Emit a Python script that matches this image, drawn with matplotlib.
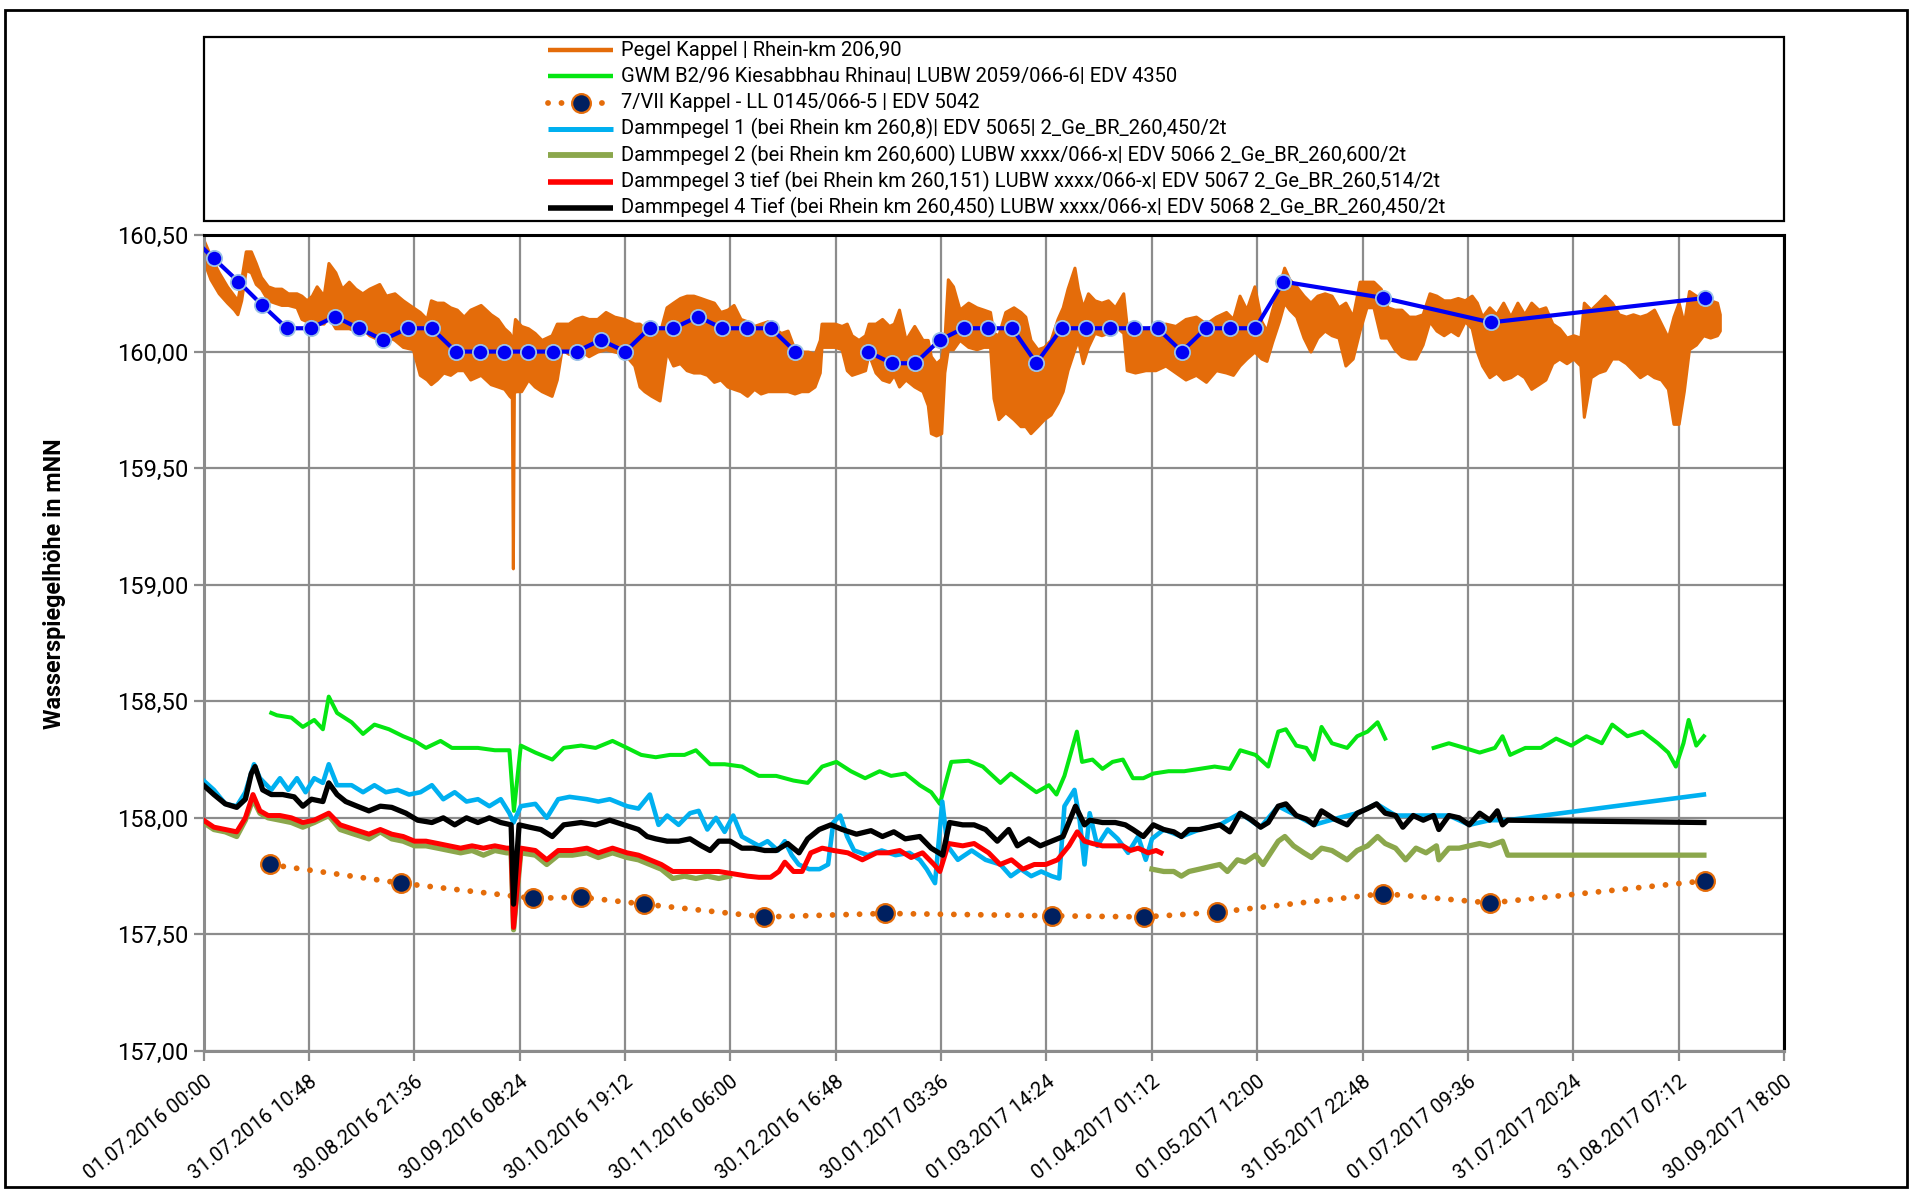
import numpy as np
import matplotlib
matplotlib.use("Agg")
import matplotlib.pyplot as plt
import matplotlib.dates as mdates
from matplotlib.lines import Line2D
from matplotlib.patches import Rectangle
from datetime import datetime

plt.rcParams['font.family'] = ['Roboto', 'DejaVu Sans']

# ---------------- data (x values are days after 01.07.2016 00:00) ----------------
START = datetime(2016, 7, 1)

X_TICK_LABELS = ["01.07.2016 00:00", "31.07.2016 10:48", "30.08.2016 21:36", "30.09.2016 08:24",
                 "30.10.2016 19:12", "30.11.2016 06:00", "30.12.2016 16:48", "30.01.2017 03:36",
                 "01.03.2017 14:24", "01.04.2017 01:12", "01.05.2017 12:00", "31.05.2017 22:48",
                 "01.07.2017 09:36", "31.07.2017 20:24", "31.08.2017 07:12", "30.09.2017 18:00"]
Y_TICKS = [157.0, 157.5, 158.0, 158.5, 159.0, 159.5, 160.0, 160.5]
Y_TICK_LABELS = ["157,00", "157,50", "158,00", "158,50", "159,00", "159,50", "160,00", "160,50"]

LABELS = ["Pegel Kappel | Rhein-km 206,90",
          "GWM B2/96 Kiesabbhau Rhinau| LUBW 2059/066-6| EDV 4350",
          "7/VII Kappel - LL 0145/066-5 | EDV 5042",
          "Dammpegel 1 (bei Rhein km 260,8)| EDV 5065| 2_Ge_BR_260,450/2t",
          "Dammpegel 2 (bei Rhein km 260,600) LUBW xxxx/066-x| EDV 5066 2_Ge_BR_260,600/2t",
          "Dammpegel 3 tief (bei Rhein km 260,151) LUBW xxxx/066-x| EDV 5067 2_Ge_BR_260,514/2t",
          "Dammpegel 4 Tief (bei Rhein km 260,450) LUBW xxxx/066-x| EDV 5068 2_Ge_BR_260,450/2t"]

# Pegel Kappel: band of the (strongly fluctuating) gauge reading, upper / lower envelope
kappel_day = [0.0, 2.0, 4.4, 6.8, 8.8, 9.8, 10.9, 12.2, 13.7, 15.1, 16.6, 18.6, 20.5, 22.5, 24.4, 26.9,
              28.3, 29.8, 31.3, 32.7, 34.7, 36.1, 38.1, 40.0, 42.0, 43.9, 45.9, 47.9, 50.8, 52.7, 55.2,
              57.6, 60.5, 62.5, 64.5, 65.7, 67.4, 69.3, 71.3, 73.2, 75.2, 77.1, 80.1, 83.0, 85.0, 86.9,
              88.4, 89.1, 89.4, 89.7, 90.0, 91.8, 93.8, 95.7, 97.7, 100.6, 102.1, 103.5, 105.5, 107.4,
              109.4, 111.3, 113.8, 116.2, 118.7, 121.6, 124.5, 126.0, 127.4, 129.4, 131.8, 133.8, 135.7,
              137.7, 139.6, 141.6, 143.6, 145.5, 147.5, 149.4, 151.4, 153.2, 155.2, 157.1, 159.1, 161.0,
              163.0, 164.9, 166.9, 168.8, 170.8, 172.7, 174.7, 176.6, 178.1, 178.6, 180.5, 182.5, 184.4,
              185.9, 187.3, 189.3, 191.2, 192.2, 194.2, 196.1, 198.1, 199.5, 201.0, 202.9, 205.4, 207.8,
              209.3, 210.2, 211.7, 213.2, 214.1, 215.1, 216.6, 218.5, 221.0, 223.4, 225.4, 227.3, 228.3,
              229.7, 231.7, 234.1, 236.1, 237.5, 239.0, 241.0, 242.9, 244.8, 246.8, 248.3, 249.7, 251.7,
              252.7, 254.1, 255.6, 257.5, 259.5, 261.4, 263.4, 265.8, 266.8, 269.2, 272.2, 275.1, 278.0,
              280.9, 283.8, 286.8, 289.7, 292.6, 295.5, 297.5, 299.4, 301.4, 303.7, 305.7, 307.2, 308.8,
              310.8, 312.3, 313.8, 315.8, 317.9, 319.9, 321.9, 324.0, 326.0, 328.0, 330.0, 332.1, 334.1,
              336.1, 338.1, 340.2, 342.2, 344.2, 346.2, 348.3, 350.3, 352.3, 354.3, 356.3, 358.4, 360.4,
              362.5, 364.5, 366.5, 368.0, 369.5, 371.6, 373.6, 375.6, 377.7, 379.7, 381.7, 383.7, 385.8,
              387.8, 389.8, 391.8, 393.9, 395.9, 397.9, 398.9, 400.9, 403.0, 405.0, 407.0, 409.0, 411.1,
              413.1, 415.1, 417.2, 419.2, 421.2, 423.2, 424.8, 426.3, 427.8, 429.3, 431.3, 433.4, 435.4,
              437.4, 438.2]
kappel_hi = [160.48, 160.41, 160.34, 160.28, 160.24, 160.22, 160.31, 160.43, 160.43, 160.38, 160.32, 160.28,
             160.27, 160.27, 160.25, 160.25, 160.24, 160.22, 160.24, 160.28, 160.24, 160.38, 160.34, 160.27,
             160.30, 160.27, 160.25, 160.27, 160.29, 160.24, 160.25, 160.22, 160.19, 160.17, 160.14, 160.22,
             160.21, 160.21, 160.19, 160.18, 160.15, 160.18, 160.20, 160.16, 160.14, 160.10, 160.08, 160.06,
             160.04, 160.10, 160.14, 160.11, 160.10, 160.08, 160.05, 160.07, 160.12, 160.12, 160.12, 160.14,
             160.15, 160.14, 160.14, 160.17, 160.15, 160.14, 160.12, 160.12, 160.10, 160.12, 160.08, 160.19,
             160.21, 160.23, 160.24, 160.24, 160.23, 160.22, 160.21, 160.17, 160.18, 160.20, 160.14, 160.13,
             160.11, 160.12, 160.13, 160.10, 160.08, 160.09, 160.01, 160.00, 160.00, 159.99, 160.05, 160.12,
             160.12, 160.12, 160.11, 160.12, 160.07, 160.05, 160.07, 160.12, 160.12, 160.14, 160.11, 160.12,
             160.18, 160.05, 160.11, 160.05, 160.05, 159.98, 159.95, 159.97, 160.05, 160.31, 160.28, 160.18,
             160.21, 160.19, 160.18, 160.17, 160.08, 160.07, 160.17, 160.19, 160.17, 160.15, 160.05, 160.01,
             160.02, 160.05, 160.14, 160.19, 160.27, 160.36, 160.27, 160.19, 160.25, 160.22, 160.21, 160.22,
             160.19, 160.25, 160.11, 160.10, 160.10, 160.11, 160.12, 160.11, 160.14, 160.15, 160.12, 160.15,
             160.17, 160.14, 160.24, 160.18, 160.28, 160.13, 160.09, 160.18, 160.28, 160.36, 160.31, 160.28,
             160.24, 160.21, 160.24, 160.25, 160.24, 160.19, 160.21, 160.15, 160.30, 160.30, 160.30, 160.27,
             160.19, 160.18, 160.18, 160.15, 160.15, 160.16, 160.25, 160.24, 160.22, 160.22, 160.23, 160.22,
             160.24, 160.21, 160.15, 160.19, 160.16, 160.21, 160.15, 160.21, 160.16, 160.21, 160.18, 160.19,
             160.12, 160.10, 160.06, 160.07, 160.06, 160.21, 160.18, 160.21, 160.24, 160.21, 160.16, 160.15,
             160.16, 160.15, 160.16, 160.18, 160.12, 160.06, 160.15, 160.21, 160.12, 160.26, 160.24, 160.23,
             160.22, 160.21, 160.16]
kappel_lo = [160.39, 160.31, 160.25, 160.21, 160.18, 160.16, 160.22, 160.35, 160.34, 160.29, 160.27, 160.22,
             160.21, 160.20, 160.20, 160.19, 160.14, 160.13, 160.12, 160.12, 160.12, 160.15, 160.10, 160.10,
             160.10, 160.09, 160.10, 160.07, 160.05, 160.07, 160.05, 160.02, 160.01, 159.90, 159.88, 159.86,
             159.88, 159.91, 159.90, 159.92, 159.92, 159.88, 159.90, 159.86, 159.85, 159.84, 159.81, 159.80,
             159.07, 159.82, 159.83, 159.83, 159.88, 159.85, 159.83, 159.81, 159.88, 160.01, 159.99, 160.01,
             160.00, 159.98, 160.00, 160.01, 160.00, 159.99, 159.94, 159.85, 159.83, 159.81, 159.79, 160.00,
             159.94, 159.95, 159.92, 159.91, 159.91, 159.90, 159.87, 159.88, 159.85, 159.84, 159.83, 159.81,
             159.84, 159.82, 159.83, 159.83, 159.83, 159.83, 159.82, 159.83, 159.83, 159.85, 159.91, 160.02,
             160.02, 160.02, 160.01, 159.92, 159.90, 159.91, 159.92, 159.99, 159.91, 159.88, 159.87, 159.90,
             159.85, 159.88, 159.85, 159.83, 159.77, 159.65, 159.64, 159.65, 159.91, 160.01, 160.01, 160.05,
             160.02, 160.01, 160.02, 160.02, 159.80, 159.71, 159.74, 159.71, 159.68, 159.68, 159.65, 159.68,
             159.71, 159.73, 159.78, 159.83, 159.92, 160.01, 160.05, 159.95, 160.02, 160.08, 160.07, 160.08,
             160.11, 160.08, 159.92, 159.91, 159.92, 159.92, 159.94, 159.91, 159.88, 159.90, 159.87, 159.92,
             159.91, 159.90, 159.94, 159.97, 160.00, 159.97, 159.96, 160.04, 160.13, 160.21, 160.18, 160.15,
             160.06, 160.00, 160.06, 160.09, 160.07, 160.06, 159.94, 159.97, 160.09, 160.19, 160.19, 160.06,
             160.06, 160.01, 159.98, 159.97, 159.97, 160.03, 160.13, 160.09, 160.07, 160.09, 160.07, 160.13,
             160.10, 160.00, 159.94, 159.89, 159.91, 159.88, 159.89, 159.91, 159.89, 159.84, 159.86, 159.88,
             159.95, 159.97, 159.95, 159.97, 159.94, 159.72, 159.89, 159.91, 159.92, 159.97, 159.97, 159.95,
             159.92, 159.89, 159.91, 159.89, 159.88, 159.84, 159.69, 159.69, 159.83, 160.01, 160.03, 160.07,
             160.06, 160.07, 160.09]

# Weekly reading of the Kappel gauge (blue line with markers, not listed in legend)
weekly_day = [-4.1, 2.9, 10.1, 16.9, 24.1, 31.0, 38.0, 44.9, 51.9, 59.0, 65.9, 72.9, 80.0, 86.9, 93.8, 100.9,
              107.8, 114.8, 121.9, 128.9, 135.8, 142.9, 149.9, 157.1, 164.0, 171.0, 181.0, 191.9, 198.9,
              205.7, 212.8, 219.7, 226.8, 233.7, 240.7, 248.0, 254.9, 261.9, 268.8, 275.7, 282.7, 289.7,
              296.7, 304.0, 312.1, 341.0, 372.0, 434.0]
weekly_val = [160.50, 160.40, 160.30, 160.20, 160.10, 160.10, 160.15, 160.10, 160.05, 160.10, 160.10, 160.00,
              160.00, 160.00, 160.00, 160.00, 160.00, 160.05, 160.00, 160.10, 160.10, 160.15, 160.10, 160.10,
              160.10, 160.00, np.nan, 160.00, 159.95, 159.95, 160.05, 160.10, 160.10, 160.10, 159.95, 160.10,
              160.10, 160.10, 160.10, 160.10, 160.00, 160.10, 160.10, 160.10, 160.30, 160.23, 160.125, 160.23]

# GWM B2/96 Kiesabbhau Rhinau
gwm_day = [19.6, 21.2, 25.4, 28.7, 32.0, 34.5, 36.2, 38.6, 42.8, 46.1, 49.4, 53.6, 57.7, 61.0, 64.3, 68.5,
           71.8, 76.0, 79.3, 84.2, 88.4, 89.7, 91.7, 95.9, 100.8, 104.1, 109.1, 113.3, 118.2, 122.4, 126.5,
           130.7, 134.8, 139.0, 142.3, 146.4, 150.6, 155.6, 160.5, 165.5, 170.5, 174.6, 178.8, 182.9, 187.1,
           191.2, 195.4, 198.7, 202.8, 207.0, 210.3, 212.8, 216.1, 221.1, 225.2, 230.3, 233.3, 237.0, 240.7,
           244.3, 246.5, 248.8, 252.4, 253.9, 256.9, 259.8, 262.7, 265.7, 268.6, 271.6, 274.5, 278.9, 283.4,
           287.8, 292.2, 296.6, 299.6, 304.0, 307.7, 310.6, 312.8, 315.8, 318.7, 320.9, 323.1, 326.1, 330.5,
           333.4, 336.4, 339.3, 341.5, 348.0, 355.5, 359.9, 364.4, 368.8, 373.2, 375.4, 377.6, 382.0, 386.5,
           390.9, 395.3, 399.7, 404.1, 407.1, 411.5, 415.9, 420.3, 423.3, 425.5, 427.7, 429.2, 431.4, 433.6]
gwm_val = [158.45, 158.44, 158.43, 158.39, 158.42, 158.38, 158.52, 158.45, 158.41, 158.36, 158.40, 158.38,
           158.35, 158.33, 158.30, 158.33, 158.30, 158.30, 158.30, 158.29, 158.29, 158.03, 158.31, 158.28,
           158.25, 158.30, 158.31, 158.30, 158.33, 158.30, 158.27, 158.26, 158.27, 158.27, 158.29, 158.23,
           158.23, 158.22, 158.18, 158.18, 158.16, 158.15, 158.22, 158.24, 158.20, 158.17, 158.20, 158.18,
           158.19, 158.14, 158.11, 158.06, 158.24, 158.245, 158.22, 158.15, 158.19, 158.15, 158.11, 158.14,
           158.10, 158.18, 158.37, 158.24, 158.25, 158.21, 158.24, 158.25, 158.17, 158.17, 158.19, 158.20,
           158.20, 158.21, 158.22, 158.21, 158.29, 158.27, 158.22, 158.37, 158.38, 158.31, 158.30, 158.25,
           158.39, 158.32, 158.30, 158.35, 158.37, 158.41, 158.34, np.nan, 158.30, 158.32, 158.30, 158.28,
           158.30, 158.35, 158.27, 158.30, 158.30, 158.34, 158.31, 158.35, 158.32, 158.40, 158.35, 158.37,
           158.32, 158.28, 158.22, 158.32, 158.42, 158.31, 158.35]

# 7/VII Kappel (manual readings)
vii_day = [19.2, 57.0, 95.1, 109.1, 127.3, 162.1, 197.0, 245.1, 271.9, 292.8, 341.0, 371.9, 434.0]
vii_val = [157.80, 157.72, 157.655, 157.66, 157.63, 157.575, 157.59, 157.58, 157.575, 157.595, 157.675,
           157.635, 157.73]

# Dammpegel 1
dp1_day = [0.0, 3.0, 6.3, 9.6, 12.1, 14.6, 16.3, 19.6, 22.1, 24.5, 27.0, 29.5, 32.0, 34.5, 36.2, 38.6, 42.8,
           46.1, 49.4, 52.7, 56.1, 59.4, 62.7, 66.0, 69.3, 72.6, 76.0, 79.3, 82.6, 85.9, 88.4, 89.6, 91.7,
           95.9, 99.2, 102.5, 105.8, 110.8, 114.1, 117.4, 122.4, 125.7, 129.0, 131.5, 134.0, 137.3, 140.6,
           143.1, 145.6, 148.1, 150.6, 153.1, 155.6, 158.0, 160.5, 163.0, 166.0, 168.0, 170.0, 172.0, 175.0,
           178.0, 180.5, 182.0, 184.0, 186.0, 188.0, 192.0, 196.0, 200.0, 204.0, 207.0, 209.0, 211.4, 213.5,
           215.0, 218.0, 222.0, 226.0, 230.3, 233.3, 236.2, 239.2, 242.1, 245.1, 247.3, 248.8, 251.7, 253.2,
           254.6, 256.1, 258.3, 261.3, 264.2, 267.2, 270.1, 272.3, 274.1, 277.5, 282.6, 287.8, 293.7, 299.6,
           305.5, 310.6, 315.8, 320.9, 326.8, 333.4, 339.0, 344.5, 349.6, 355.5, 359.9, 365.8, 371.7, 376.9,
           433.6]
dp1_val = [158.16, 158.12, 158.06, 158.05, 158.11, 158.23, 158.17, 158.12, 158.17, 158.12, 158.17, 158.11,
           158.17, 158.15, 158.23, 158.14, 158.14, 158.11, 158.14, 158.11, 158.12, 158.10, 158.11, 158.14,
           158.08, 158.11, 158.07, 158.08, 158.05, 158.08, 158.02, 157.98, 158.05, 158.06, 158.00, 158.08,
           158.09, 158.08, 158.07, 158.08, 158.05, 158.04, 158.10, 157.97, 158.01, 157.97, 158.02, 158.03,
           157.95, 158.00, 157.94, 158.01, 157.92, 157.90, 157.88, 157.90, 157.86, 157.90, 157.84, 157.80,
           157.78, 157.78, 157.80, 157.98, 158.01, 157.92, 157.86, 157.84, 157.86, 157.84, 157.85, 157.82,
           157.78, 157.72, 158.07, 157.88, 157.82, 157.86, 157.82, 157.80, 157.75, 157.78, 157.75, 157.77,
           157.75, 157.74, 158.05, 158.12, 157.99, 157.80, 158.02, 157.88, 157.95, 157.91, 157.85, 157.92,
           157.82, 157.91, 157.95, 157.92, 157.95, 157.97, 158.02, 157.96, 158.05, 158.01, 157.97, 157.995,
           158.02, 158.06, 158.01, 158.01, 158.01, 158.01, 157.97, 157.99, 157.99, 158.10]

# Dammpegel 2
dp2_day = [0.0, 3.0, 6.3, 9.6, 12.1, 14.3, 16.3, 18.7, 22.1, 25.4, 28.7, 32.0, 36.2, 39.5, 43.6, 47.8, 51.1,
           54.4, 57.7, 61.0, 64.3, 67.7, 71.0, 74.3, 77.6, 80.9, 84.2, 87.6, 88.9, 89.6, 91.7, 95.9, 99.2,
           102.5, 106.6, 110.8, 114.1, 118.2, 122.4, 125.7, 129.0, 132.3, 135.6, 139.0, 142.3, 145.6, 148.9,
           152.0, 210.0, 274.1, 277.5, 280.4, 282.6, 284.8, 287.8, 290.7, 293.7, 295.9, 298.8, 301.0, 304.0,
           306.2, 308.4, 310.6, 312.5, 315.0, 318.0, 320.2, 323.1, 326.1, 330.5, 333.4, 336.4, 339.3, 341.5,
           344.5, 347.4, 350.4, 353.3, 356.3, 357.0, 359.9, 362.9, 365.8, 368.8, 371.7, 375.4, 376.9, 433.6]
dp2_val = [157.98, 157.95, 157.94, 157.92, 157.99, 158.08, 158.02, 158.00, 157.99, 157.98, 157.96, 157.98,
           158.01, 157.95, 157.93, 157.91, 157.94, 157.91, 157.90, 157.88, 157.88, 157.87, 157.86, 157.85,
           157.86, 157.84, 157.86, 157.85, 157.85, 157.52, 157.85, 157.84, 157.80, 157.84, 157.84, 157.85,
           157.83, 157.85, 157.83, 157.82, 157.80, 157.78, 157.74, 157.75, 157.74, 157.75, 157.74, 157.75,
           np.nan, 157.78, 157.77, 157.77, 157.75, 157.77, 157.78, 157.79, 157.80, 157.77, 157.82, 157.81,
           157.84, 157.80, 157.85, 157.90, 157.92, 157.88, 157.85, 157.83, 157.87, 157.86, 157.82, 157.86,
           157.88, 157.92, 157.89, 157.87, 157.82, 157.87, 157.85, 157.88, 157.82, 157.87, 157.87, 157.88,
           157.89, 157.88, 157.90, 157.84, 157.84]

# Dammpegel 3 tief
dp3_day = [0.0, 3.0, 6.3, 9.6, 12.1, 14.3, 16.3, 18.7, 22.1, 25.4, 28.7, 32.0, 36.2, 39.5, 43.6, 47.8, 51.1,
           54.4, 57.7, 61.0, 64.3, 67.7, 71.0, 74.3, 77.6, 80.9, 84.2, 87.6, 88.9, 89.6, 91.7, 95.9, 99.2,
           102.5, 106.6, 110.8, 114.1, 118.2, 122.4, 125.7, 129.0, 132.3, 135.6, 139.0, 142.3, 145.6, 148.9,
           153.1, 157.2, 160.5, 163.9, 166.3, 168.0, 170.5, 173.0, 175.5, 178.8, 182.1, 186.2, 190.4, 194.5,
           197.8, 201.2, 204.5, 207.8, 211.1, 212.8, 215.3, 219.4, 222.7, 226.9, 230.2, 233.5, 236.8, 240.1,
           243.4, 246.8, 250.1, 252.5, 254.6, 256.9, 259.8, 262.7, 265.7, 267.9, 270.1, 273.0, 275.3, 276.7]
dp3_val = [157.99, 157.96, 157.95, 157.94, 158.00, 158.10, 158.03, 158.01, 158.01, 158.00, 157.98, 157.99,
           158.02, 157.97, 157.95, 157.93, 157.95, 157.93, 157.92, 157.90, 157.90, 157.89, 157.88, 157.87,
           157.88, 157.87, 157.88, 157.87, 157.87, 157.53, 157.87, 157.86, 157.82, 157.86, 157.86, 157.87,
           157.85, 157.87, 157.85, 157.84, 157.82, 157.80, 157.77, 157.77, 157.77, 157.77, 157.77, 157.76,
           157.75, 157.745, 157.745, 157.77, 157.81, 157.77, 157.77, 157.85, 157.87, 157.86, 157.85, 157.82,
           157.85, 157.85, 157.86, 157.83, 157.85, 157.80, 157.77, 157.89, 157.88, 157.89, 157.85, 157.80,
           157.82, 157.78, 157.80, 157.80, 157.82, 157.88, 157.94, 157.90, 157.89, 157.88, 157.88, 157.88,
           157.86, 157.87, 157.85, 157.86, 157.85]

# Dammpegel 4 Tief
dp4_day = [0.0, 3.0, 6.3, 9.6, 12.1, 13.8, 14.9, 17.1, 19.6, 22.9, 26.2, 28.7, 31.2, 34.5, 36.2, 38.6, 41.1,
           44.4, 47.8, 51.1, 54.4, 58.5, 61.9, 66.0, 69.3, 72.6, 76.0, 79.3, 82.6, 85.9, 88.9, 89.6, 91.2,
           94.2, 97.5, 100.8, 104.1, 109.1, 113.3, 117.4, 121.6, 125.7, 128.2, 130.7, 134.0, 137.3, 140.6,
           143.9, 146.4, 148.9, 152.2, 155.6, 158.9, 162.2, 165.5, 168.8, 172.1, 174.6, 177.9, 181.3, 184.6,
           188.7, 192.9, 196.2, 199.5, 202.8, 207.0, 210.3, 213.6, 215.6, 219.4, 222.7, 226.0, 229.4, 232.7,
           235.2, 238.5, 241.8, 245.1, 248.4, 252.0, 254.6, 256.1, 259.8, 263.5, 266.4, 268.6, 271.6, 274.5,
           277.5, 280.4, 282.6, 284.8, 287.8, 290.7, 293.7, 296.6, 299.6, 302.5, 305.5, 307.7, 310.6, 312.8,
           315.8, 318.7, 320.9, 323.1, 326.8, 330.5, 333.4, 336.4, 339.0, 341.5, 344.5, 346.6, 349.6, 352.5,
           355.5, 357.0, 359.9, 362.9, 365.8, 368.8, 371.7, 373.9, 375.4, 376.9, 433.6]
dp4_val = [158.14, 158.10, 158.06, 158.045, 158.08, 158.19, 158.22, 158.12, 158.10, 158.10, 158.09, 158.05,
           158.08, 158.07, 158.15, 158.10, 158.07, 158.05, 158.03, 158.05, 158.045, 158.02, 157.99, 157.98,
           158.00, 157.97, 158.00, 157.98, 158.00, 157.98, 157.97, 157.63, 157.97, 157.96, 157.95, 157.92,
           157.97, 157.98, 157.97, 157.99, 157.97, 157.95, 157.92, 157.91, 157.90, 157.90, 157.91, 157.88,
           157.86, 157.90, 157.90, 157.87, 157.87, 157.86, 157.86, 157.89, 157.85, 157.91, 157.95, 157.97,
           157.95, 157.93, 157.945, 157.92, 157.94, 157.91, 157.92, 157.87, 157.84, 157.98, 157.97, 157.97,
           157.95, 157.90, 157.95, 157.88, 157.91, 157.88, 157.90, 157.92, 158.05, 157.97, 157.99, 157.98,
           157.98, 157.97, 157.95, 157.92, 157.97, 157.95, 157.94, 157.92, 157.95, 157.95, 157.96, 157.97,
           157.94, 158.02, 157.995, 157.96, 157.98, 158.05, 158.06, 158.01, 157.995, 157.97, 158.03, 157.995,
           157.97, 158.02, 158.04, 158.06, 158.02, 158.01, 157.96, 158.01, 157.99, 158.01, 157.95, 158.01,
           158.00, 157.97, 158.02, 157.99, 158.03, 157.97, 157.99, 157.98]

# ---------------- plotting ----------------
base = mdates.date2num(START)


def X(days):
    return base + np.asarray(days, dtype=float)


C_ORANGE = '#E46C0A'
C_GREEN = '#05E612'
C_LBLUE = '#00B0F0'
C_OLIVE = '#8BA74C'
C_RED = '#FF0000'
C_BLACK = '#000000'
C_BLUE = '#0000F5'
C_NAVY = '#002060'
C_GRID = '#8C8C8C'

W, H = 1921, 1191
fig = plt.figure(figsize=(W / 100, H / 100), dpi=100)
ax = fig.add_axes([203.5 / W, 1 - 1051 / H, (1784 - 203.5) / W, (1051 - 235) / H])

# series (drawing order as in legend, weekly blue line on top)
ax.fill_between(X(kappel_day), kappel_lo, kappel_hi, color=C_ORANGE, linewidth=2.2,
                edgecolor=C_ORANGE, zorder=2)
ax.plot(X(gwm_day), gwm_val, color=C_GREEN, lw=2.9, zorder=3, solid_joinstyle='round')
ax.plot(X(vii_day), vii_val, color=C_ORANGE, lw=4.2, linestyle=(0, (0.01, 2.3)),
        dash_capstyle='round', zorder=3)
ax.plot(X(vii_day), vii_val, linestyle='none', marker='o', markersize=13.5,
        markerfacecolor=C_NAVY, markeredgecolor=C_ORANGE, markeredgewidth=1.6, zorder=4)
ax.plot(X(dp1_day), dp1_val, color=C_LBLUE, lw=3.3, zorder=5, solid_joinstyle='round')
ax.plot(X(dp2_day), dp2_val, color=C_OLIVE, lw=3.8, zorder=6, solid_joinstyle='round')
ax.plot(X(dp3_day), dp3_val, color=C_RED, lw=3.6, zorder=7, solid_joinstyle='round')
ax.plot(X(dp4_day), dp4_val, color=C_BLACK, lw=3.8, zorder=8, solid_joinstyle='round')
ax.plot(X(weekly_day), weekly_val, color=C_BLUE, lw=3.0, marker='o', markersize=11,
        markerfacecolor=C_BLUE, markeredgecolor='#9DC3E6', markeredgewidth=1.3, zorder=9)

# axes
tick_pos = [mdates.date2num(datetime.strptime(s, '%d.%m.%Y %H:%M')) for s in X_TICK_LABELS]
ax.set_xlim(tick_pos[0], tick_pos[-1])
ax.set_ylim(Y_TICKS[0], Y_TICKS[-1])
ax.set_xticks(tick_pos)
ax.set_xticklabels(X_TICK_LABELS, rotation=38, ha='right', va='top', rotation_mode='anchor',
                   fontsize=14.5)
ax.set_yticks(Y_TICKS)
ax.set_yticklabels(Y_TICK_LABELS, fontsize=17)
ax.grid(True, color=C_GRID, lw=1.6, zorder=0)
ax.set_axisbelow(True)
ax.tick_params(axis='both', direction='out', length=7, width=1.6, color=C_GRID)
ax.tick_params(axis='x', pad=8)
ax.tick_params(axis='y', pad=4)
for s in ('left', 'bottom'):
    ax.spines[s].set_color(C_GRID)
    ax.spines[s].set_linewidth(2.2)
for s in ('top', 'right'):
    ax.spines[s].set_color('black')
    ax.spines[s].set_linewidth(2.2)
fig.text(55 / W, 1 - 584 / H, 'Wasserspiegelhöhe in mNN', fontsize=16.8, fontweight='bold',
         rotation=90, ha='center', va='center')

# legend box and outer frame drawn in figure coordinates
fig.add_artist(Rectangle((203.5 / W, 1 - 220.5 / H), (1784 - 203.5) / W, (220.5 - 37) / H,
                         transform=fig.transFigure, fill=False, edgecolor='black', lw=1.6))
fig.add_artist(Rectangle((5 / W, 1 - 1187 / H), (1907 - 5) / W, (1187 - 10) / H,
                         transform=fig.transFigure, fill=False, edgecolor='black', lw=2.0))

styles = [dict(color=C_ORANGE, lw=3.2), dict(color=C_GREEN, lw=3.2), None,
          dict(color=C_LBLUE, lw=3.6), dict(color=C_OLIVE, lw=4.2), dict(color=C_RED, lw=4.0),
          dict(color=C_BLACK, lw=4.0)]
x0, x1, xt = 548 / W, 613 / W, 621 / W
for i, (lab, st) in enumerate(zip(LABELS, styles)):
    y = 1 - (50 + i * 26.3) / H
    if st is None:
        fig.add_artist(Line2D([x0, x1], [y, y], transform=fig.transFigure, color=C_ORANGE, lw=4.2,
                              linestyle=(0, (0.01, 2.3)), dash_capstyle='round'))
        fig.add_artist(Line2D([(x0 + x1) / 2], [y], transform=fig.transFigure, marker='o',
                              markersize=13.5, markerfacecolor=C_NAVY, markeredgecolor=C_ORANGE,
                              markeredgewidth=1.6, linestyle='none'))
    else:
        fig.add_artist(Line2D([x0, x1], [y, y], transform=fig.transFigure, solid_capstyle='butt', **st))
    fig.text(xt, y, lab, fontsize=14.5, va='center', ha='left')

fig.savefig('out.png', dpi=100)
